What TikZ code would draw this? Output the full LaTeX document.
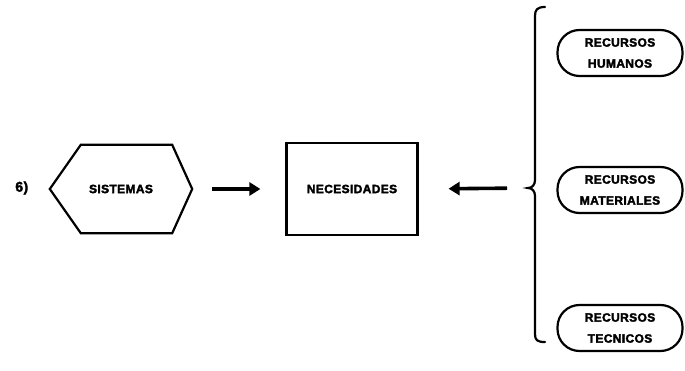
\documentclass[tikz,border=0pt]{standalone}
\usepackage{fontspec}
\setmainfont{Liberation Sans}[LetterSpace=3, BoldFeatures={FakeBold=2.5}]
\usetikzlibrary{arrows.meta}
\begin{document}
\begin{tikzpicture}[x=1pt,y=-1pt,
  lbl/.style={font=\fontsize{12}{21}\selectfont\bfseries, align=center, inner sep=0pt},
  rbox/.style={lbl, draw, line width=2.2pt, rounded corners=22pt, minimum width=125pt, minimum height=46pt},
  conn/.style={line width=3.6pt, -{Triangle[width=13pt,length=11pt]}}
]
\useasboundingbox (0,0) rectangle (685,371);
\node[font=\fontsize{14}{14}\selectfont, inner sep=0pt] (num) at (22,188) {\textbf{6)}};
\node[lbl, minimum width=142pt, minimum height=88pt] (sis) at (121,189) {SISTEMAS};
\draw[line width=2.2pt, line join=miter] (sis.west) -- ([xshift=31pt]sis.north west) -- ([xshift=-20pt]sis.north east) -- (sis.east) -- ([xshift=-20pt]sis.south east) -- ([xshift=31pt]sis.south west) -- cycle;
\node[lbl, draw, line width=2.2pt, minimum width=131pt, minimum height=92pt] (nec) at (352,189) {NECESIDADES};
\node[rbox] (hum) at (620,53) {RECURSOS\\HUMANOS};
\node[rbox] (mat) at (620,190) {RECURSOS\\MATERIALES};
\node[rbox] (tec) at (620,328) {RECURSOS\\TECNICOS};
\coordinate (tip) at (528,188);
\draw[line width=2.2pt, line cap=round] (545,7) .. controls (537,7) and (535,10) .. (535,16) -- (535,180) .. controls (535,185) and (532,188) .. (tip) .. controls (532,188) and (535,191) .. (535,196) -- (535,334) .. controls (535,340) and (537,342) .. (545,342);
\draw[conn, shorten <=20pt, shorten >=25pt] (sis.east) -- (nec.west);
\draw[conn, shorten <=21pt, shorten >=30pt] (tip) -- (nec.east);
\end{tikzpicture}
\end{document}
